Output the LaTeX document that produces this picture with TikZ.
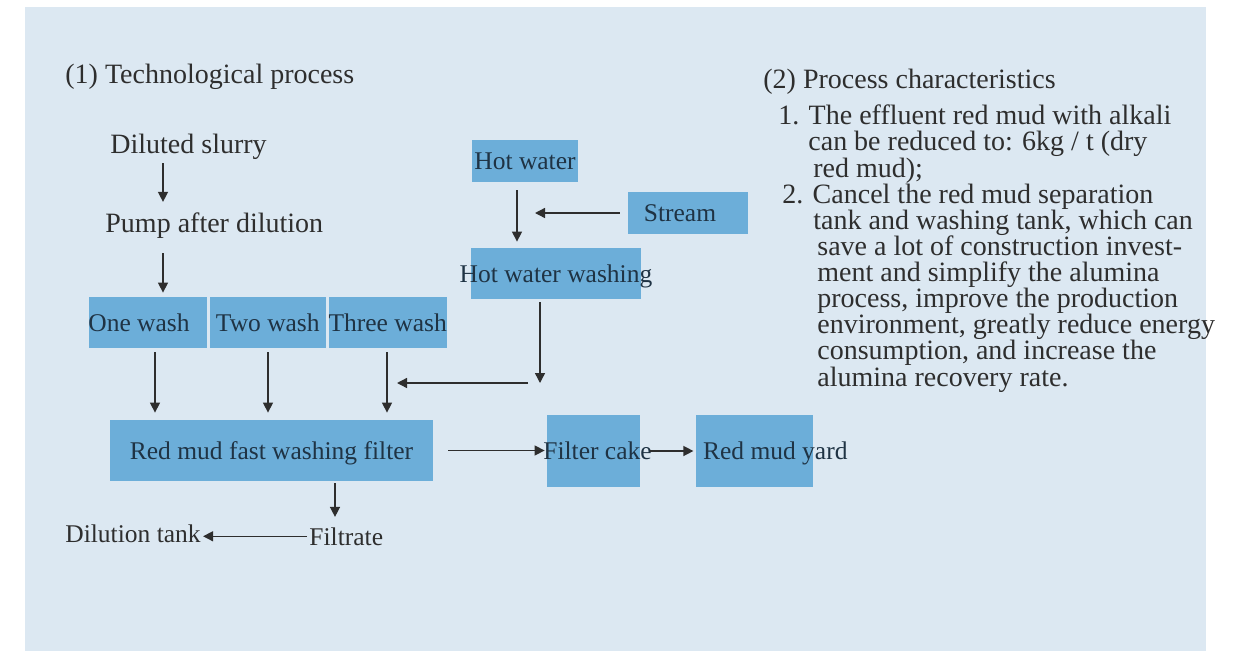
\documentclass[tikz,border=0pt]{standalone}
\usepackage{fontspec}
\setmainfont{Liberation Serif}
\usetikzlibrary{arrows.meta,positioning}
\definecolor{panelBg}{HTML}{DCE8F2}
\definecolor{boxBlue}{HTML}{6CAED9}
\definecolor{inkGray}{HTML}{2E2E2E}
\definecolor{boxInk}{HTML}{1F3344}
\tikzset{
  arr/.style={-{Triangle[length=5pt,width=5pt]}, line width=0.7pt, inkGray},
  unitbox/.style={fill=boxBlue, inner sep=0pt, minimum width=#1, minimum height=25.5pt,
    text height=8.5pt, text depth=0pt, font=\fontsize{12.75}{14}\selectfont, text=boxInk},
  lbl/.style={inner sep=1pt, anchor=base west, font=\fontsize{12.75}{14}\selectfont, text=inkGray},
  flow/.style={inner sep=1pt, anchor=base west, font=\fontsize{14}{16}\selectfont, text=inkGray},
  head/.style={inner sep=0pt, anchor=base west, font=\fontsize{14}{16}\selectfont, text=inkGray},
  note/.style={inner sep=0pt, anchor=base west, align=left,
    font=\fontsize{14}{13.05}\selectfont, text=inkGray}
}
\begin{document}
\begin{tikzpicture}[x=0.5pt,y=-0.5pt]
  \useasboundingbox (0,0) rectangle (1247,653);
  \fill[panelBg] (25,7) rectangle (1206,651);

  % (1) technological process
  \node[head] (t1) at (65,83) {(1) Technological process};
  \node[flow] (slurry) at (108,153) {Diluted slurry};
  \node[flow] (pump) at (103,232) {Pump after dilution};
  \node[unitbox=59pt] (one) at (148,322.5) {\makebox[0pt]{One wash\hspace{9pt}}};
  \node[unitbox=58pt, right=1pt of one] (two) {Two wash};
  \node[unitbox=59pt, right=1pt of two] (three) {Three wash};
  \node[unitbox=161.5pt, minimum height=30.5pt] (filter) at (271.5,450.5) {Red mud fast washing filter};
  \node[lbl] (filtrate) at (307,545) {Filtrate};
  \node[lbl] (tank) at (63,542) {Dilution tank};

  \node[unitbox=53pt, minimum height=21pt] (hotw) at (525,161) {Hot water};
  \node[unitbox=60pt, minimum height=21pt] (stream) at (688,213) {\makebox[0pt]{Stream\hspace{8pt}}};
  \node[unitbox=85pt] (hwash) at (556,273.5) {\makebox[0pt]{Hot water washing}};
  \node[unitbox=46.5pt, minimum height=36pt] (cake) at (593.5,451) {\makebox[0pt]{\hspace{4pt}Filter cake}};
  \node[unitbox=58.5pt, minimum height=36pt, right=27.5pt of cake] (yard) {\makebox[0pt]{\hspace{21pt}Red mud yard}};

  \coordinate (feed) at (163,0);
  \draw[arr, shorten <=1pt, shorten >=4pt] (slurry.south -| feed) -- (pump.north -| feed);
  \draw[arr, shorten <=6.5pt, shorten >=2pt] (pump.south -| feed) -- (one.north -| feed);
  \foreach \b/\x in {one/155,two/268,three/387}{
    \coordinate (x\b) at (\x,0);
    \draw[arr, shorten <=2pt, shorten >=3.5pt] (\b.south -| x\b) -- (filter.north -| x\b);
  }
  \coordinate (xfil) at (335,0);
  \draw[arr, shorten <=1pt, shorten >=4pt] (filter.south -| xfil) -- (filtrate.north -| xfil);
  \draw[arr] (filtrate.west) -- (filtrate.west -| tank.east);
  \draw[arr, shorten <=7.5pt, shorten >=1pt] (filter.east) -- (filter.east -| cake.west);
  \draw[arr, shorten <=5pt, shorten >=1pt] (cake.east) -- (yard.west);

  \coordinate (xhot) at (517,0);
  \draw[arr, shorten <=4pt, shorten >=3pt] (hotw.south -| xhot) -- (hwash.north -| xhot);
  \coordinate (streamend) at (535,213);
  \draw[arr, shorten <=4pt] (stream.west) -- (streamend);
  \coordinate (hwdrop) at (540,383);
  \draw[arr, shorten <=1.5pt] (hwash.south -| hwdrop) -- (hwdrop);
  \coordinate (hwfeed) at (397,383);
  \draw[arr, shorten <=6pt] (hwdrop) -- (hwfeed);

  % (2) process characteristics (base = last line)
  \node[head] (t2) at (763,88) {(2) Process characteristics};
  \node[note] (item1) at (778,177) {1. The effluent red mud with alkali\\
    \hspace*{15pt}can be reduced to: 6kg / t (dry\\
    \hspace*{17.5pt}red mud);};
  \node[note] (item2) at (782,386) {2. Cancel the red mud separation\\
    \hspace*{15.5pt}tank and washing tank, which can\\
    \hspace*{17.5pt}save a lot of construction invest-\\
    \hspace*{17.5pt}ment and simplify the alumina\\
    \hspace*{17.5pt}process, improve the production\\
    \hspace*{17.5pt}environment, greatly reduce energy\\
    \hspace*{17.5pt}consumption, and increase the\\
    \hspace*{17.5pt}alumina recovery rate.};
\end{tikzpicture}
\end{document}
